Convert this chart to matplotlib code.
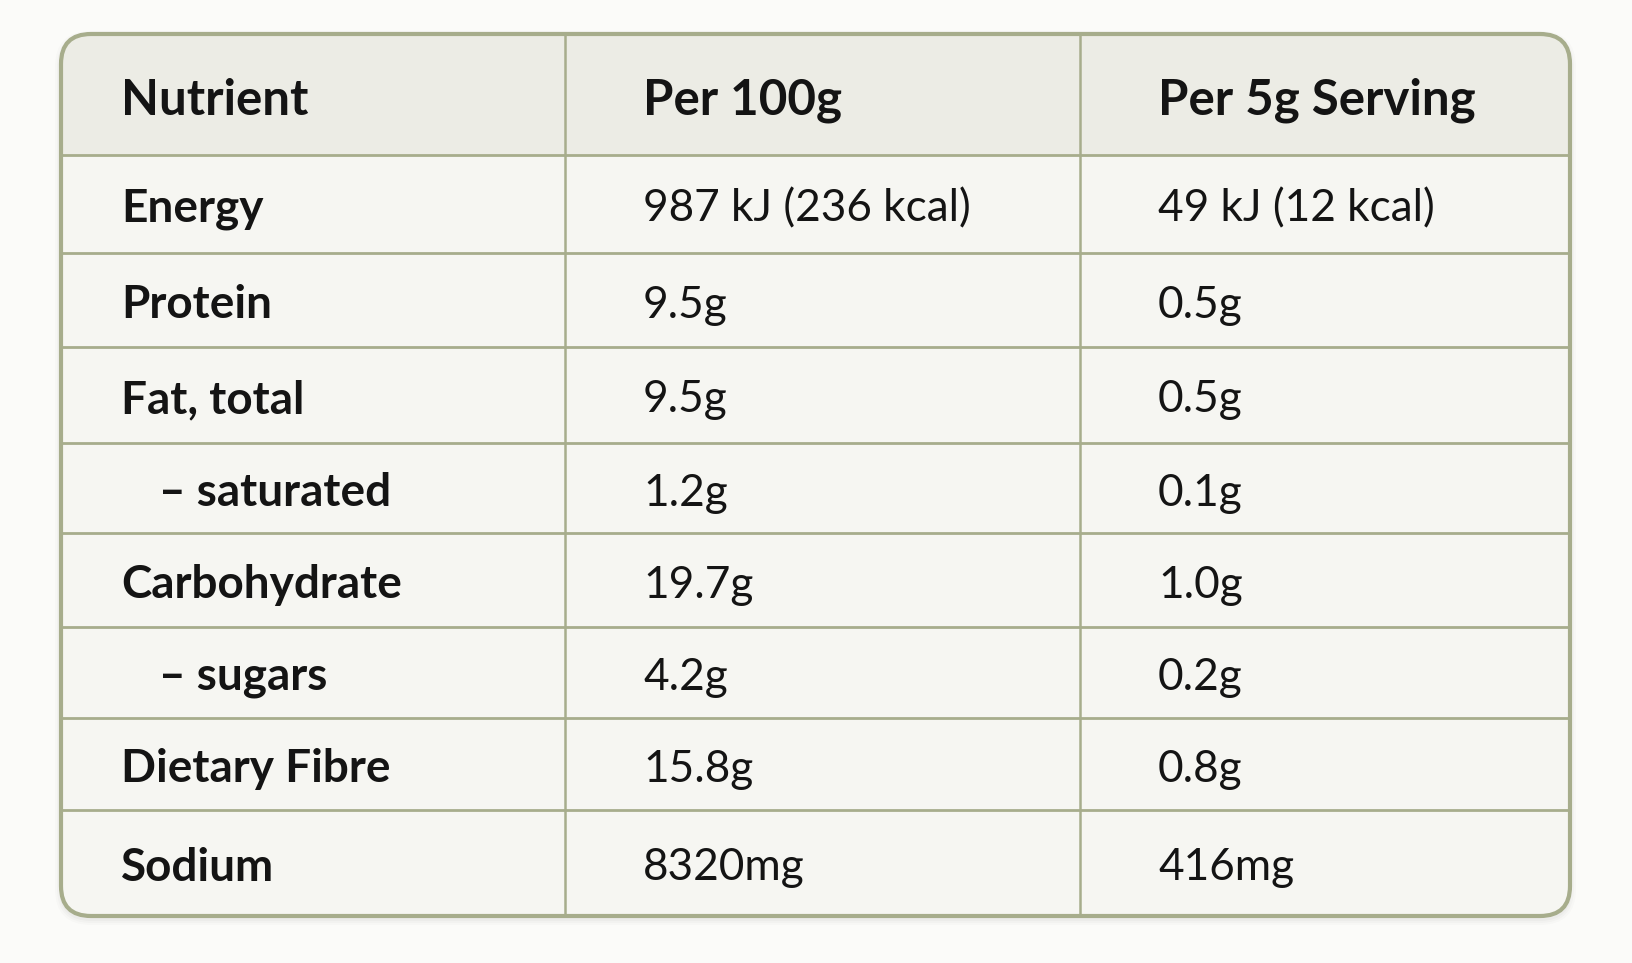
import matplotlib
matplotlib.use("Agg")
import matplotlib.pyplot as plt
from matplotlib.patches import FancyBboxPatch, Rectangle

# ---- data ----
headers = ["Nutrient", "Per 100g", "Per 5g Serving"]
nutrients = ["Energy", "Protein", "Fat, total", "– saturated", "Carbohydrate",
             "– sugars", "Dietary Fibre", "Sodium"]
indented = [False, False, False, True, False, True, False, False]
per_100g = ["987 kJ (236 kcal)", "9.5g", "9.5g", "1.2g", "19.7g", "4.2g", "15.8g", "8320mg"]
per_serving = ["49 kJ (12 kcal)", "0.5g", "0.5g", "0.1g", "1.0g", "0.2g", "0.8g", "416mg"]

# ---- layout (pixels) ----
W, H = 1633, 963
left, right, top, bottom = 61, 1570, 34, 916
col_edges = [left, 565, 1080, right]
row_edges = [top, 155, 253, 347, 443, 533, 627, 718, 810, bottom]
text_x = [121, 643, 1158]
indent_dx = 38

border_col = "#a7ad8c"
header_bg = "#ecece5"
body_bg = "#f6f6f2"
page_bg = "#fbfbf9"
text_col = "#141414"

fig = plt.figure(figsize=(W / 100, H / 100), dpi=100)
fig.patch.set_facecolor(page_bg)
ax = fig.add_axes([0, 0, 1, 1])
ax.set_xlim(0, W)
ax.set_ylim(H, 0)
ax.axis("off")

radius = 30
# soft shadow
for i, a in enumerate([0.025, 0.02, 0.015]):
    d = 2 + i * 2
    sh = FancyBboxPatch((left - d, top - d + 3), right - left + 2 * d, bottom - top + 2 * d,
                        boxstyle=f"round,pad=0,rounding_size={radius + d}",
                        facecolor="black", edgecolor="none", alpha=a, zorder=0)
    ax.add_patch(sh)

box = FancyBboxPatch((left, top), right - left, bottom - top,
                     boxstyle=f"round,pad=0,rounding_size={radius}",
                     facecolor=body_bg, edgecolor="none", zorder=1)
ax.add_patch(box)

hdr = Rectangle((left, top), right - left, row_edges[1] - top,
                facecolor=header_bg, edgecolor="none", zorder=2)
ax.add_patch(hdr)
hdr.set_clip_path(box)

# inner lines
for y in row_edges[1:-1]:
    ax.plot([left, right], [y, y], color=border_col, lw=2.0, zorder=3, solid_capstyle="butt")
for x in col_edges[1:-1]:
    ax.plot([x, x], [top, bottom], color=border_col, lw=1.8, zorder=3, solid_capstyle="butt")

outline = FancyBboxPatch((left, top), right - left, bottom - top,
                         boxstyle=f"round,pad=0,rounding_size={radius}",
                         facecolor="none", edgecolor=border_col, lw=3.0, zorder=4)
ax.add_patch(outline)

bold_font = dict(family=["Lato", "DejaVu Sans"], weight="bold")
reg_font = dict(family=["Lato", "DejaVu Sans"], weight="normal")

def yc(i):
    return (row_edges[i] + row_edges[i + 1]) / 2

for j, h in enumerate(headers):
    ax.text(text_x[j], yc(0) + 6, h, fontsize=35.5, color=text_col, va="center", ha="left",
            zorder=5, **bold_font)

for i, name in enumerate(nutrients):
    y = yc(i + 1) + 5
    x0 = text_x[0] + (indent_dx if indented[i] else 0)
    ax.text(x0, y, name, fontsize=33, color=text_col, va="center", ha="left", zorder=5, **bold_font)
    ax.text(text_x[1], y, per_100g[i], fontsize=31.8, color=text_col, va="center", ha="left",
            zorder=5, **reg_font)
    ax.text(text_x[2], y, per_serving[i], fontsize=31.8, color=text_col, va="center", ha="left",
            zorder=5, **reg_font)

fig.savefig("out.png", dpi=100, facecolor=page_bg)
